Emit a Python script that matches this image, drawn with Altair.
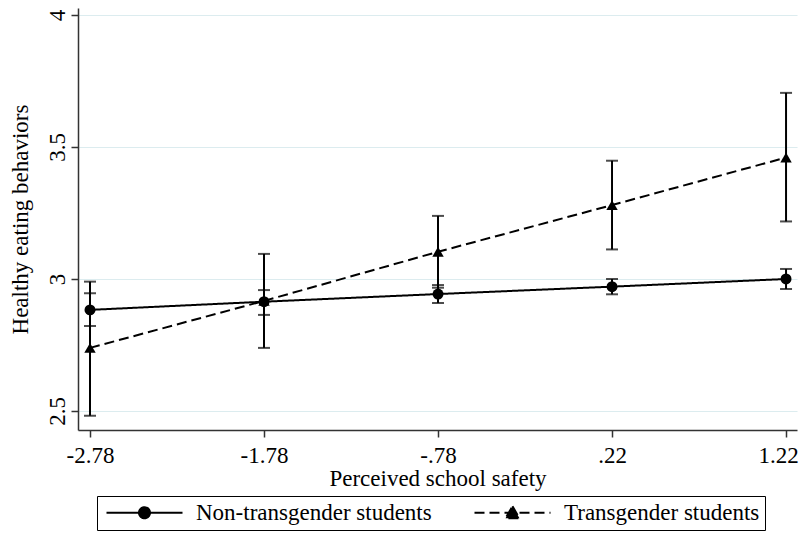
import altair as alt
import pandas as pd

# Data
safety = [-2.78, -1.78, -0.78, 0.22, 1.22]
non_mean = [2.883, 2.914, 2.943, 2.971, 3.000]
non_lo = [2.822, 2.864, 2.909, 2.942, 2.962]
non_hi = [2.946, 2.958, 2.977, 3.000, 3.038]
trans_mean = [2.739, 2.917, 3.103, 3.280, 3.460]
trans_lo = [2.482, 2.739, 2.967, 3.112, 3.218]
trans_hi = [2.990, 3.095, 3.239, 3.448, 3.705]
groups = ["Non-transgender students", "Transgender students"]
x_ticks = [-2.78, -1.78, -0.78, 0.22, 1.22]
y_ticks = [2.5, 3, 3.5, 4]

rows = []
for i, x in enumerate(safety):
    rows.append({"x": x, "group": groups[0], "m": non_mean[i], "lo": non_lo[i], "hi": non_hi[i]})
    rows.append({"x": x, "group": groups[1], "m": trans_mean[i], "lo": trans_lo[i], "hi": trans_hi[i]})
df = pd.DataFrame(rows)

FONT = "Liberation Serif"
FS = 23
xs = alt.Scale(domain=[-2.849, 1.283], nice=False, zero=False)
ys = alt.Scale(domain=[2.428, 4.0265], nice=False, zero=False)

xenc = alt.X("x:Q", scale=xs, axis=alt.Axis(
    values=x_ticks, title="Perceived school safety", grid=False,
    labelExpr="replace(replace(format(datum.value, '.2f'), '0.', '.'), '\u2212', '-')",
    labelOffset={"condition": {"test": "datum.value > 1", "value": -8}, "value": 0},
    labelPadding=7, titlePadding=0, tickSize=7))
yenc = alt.Y("m:Q", scale=ys, axis=alt.Axis(
    values=y_ticks, title="Healthy eating behaviors", grid=True, format="~g",
    labelAngle=270, labelAlign="center", labelBaseline="bottom",
    labelPadding=2, titlePadding=14, tickSize=7))

dash_scale = alt.Scale(domain=groups, range=[[1, 0], [10, 5]])
stroke_scale = alt.Scale(domain=groups, range=["black", "black"])

legend_paths = [
    "M-3.8,0L3.8,0M0.55,0A0.55,0.55,0,1,1,-0.55,0A0.55,0.55,0,1,1,0.55,0Z",
    "M-3.8,0L3.8,0M0,-0.65L0.7,0.55L-0.7,0.55Z",
]

def make_legend():
    return alt.Legend(
        title=None, orient="none", legendX=19, legendY=488,
        direction="horizontal", symbolSize=400,
        symbolOffset=31, labelOffset=40, columnPadding=38,
        strokeColor="black", padding=5, symbolStrokeWidth=2,
        labelFont=FONT, labelFontSize=FS, labelColor="black", labelLimit=400,
        symbolFillColor="black", symbolStrokeColor="black",
    )

lines = alt.Chart(df).mark_line(color="black", strokeWidth=2).encode(
    x=xenc, y=yenc,
    strokeDash=alt.StrokeDash("group:N", scale=dash_scale, legend=make_legend()),
    detail="group:N")

bars = alt.Chart(df).mark_rule(color="black", strokeWidth=2).encode(
    x="x:Q", y="lo:Q", y2="hi:Q")
caps_lo = alt.Chart(df).mark_tick(color="black", thickness=2, size=12, orient="horizontal").encode(
    x="x:Q", y="lo:Q")
caps_hi = alt.Chart(df).mark_tick(color="black", thickness=2, size=12, orient="horizontal").encode(
    x="x:Q", y="hi:Q")

pts_c = alt.Chart(df).transform_filter(alt.datum.group == groups[0]).mark_point(
    shape="circle", filled=True, color="black", size=120, opacity=1).encode(x="x:Q", y="m:Q")
pts_t = alt.Chart(df).transform_filter(alt.datum.group == groups[1]).mark_point(
    shape="triangle-up", filled=True, color="black", size=130, opacity=1).encode(x="x:Q", y="m:Q")

leg = alt.Chart(df).transform_filter("datum.x > 100").mark_point(
    filled=True, fill="black", strokeWidth=2, opacity=1).encode(
    x="x:Q", y="m:Q",
    shape=alt.Shape("group:N", scale=alt.Scale(domain=groups, range=legend_paths),
                    legend=make_legend()),
    stroke=alt.Stroke("group:N", scale=stroke_scale, legend=make_legend()),
    strokeDash=alt.StrokeDash("group:N", scale=dash_scale, legend=make_legend()))

chart = alt.layer(lines, bars, caps_lo, caps_hi, pts_c, pts_t, leg).properties(
    width=719, height=422,
    autosize=alt.AutoSizeParams(type="none"),
    padding={"left": 70, "top": 0, "right": 2, "bottom": 104},
).configure_view(stroke=None).configure_axis(
    labelFont=FONT, titleFont=FONT, labelFontSize=FS, titleFontSize=FS,
    labelColor="black", titleColor="black", titleFontWeight="normal",
    domainColor="#333333", domainWidth=1.5, tickColor="#333333", tickWidth=1.5,
    gridColor="#dcecef", gridWidth=1.2,
)

chart.save("out.html", embed_options={"renderer": "svg", "actions": False})
